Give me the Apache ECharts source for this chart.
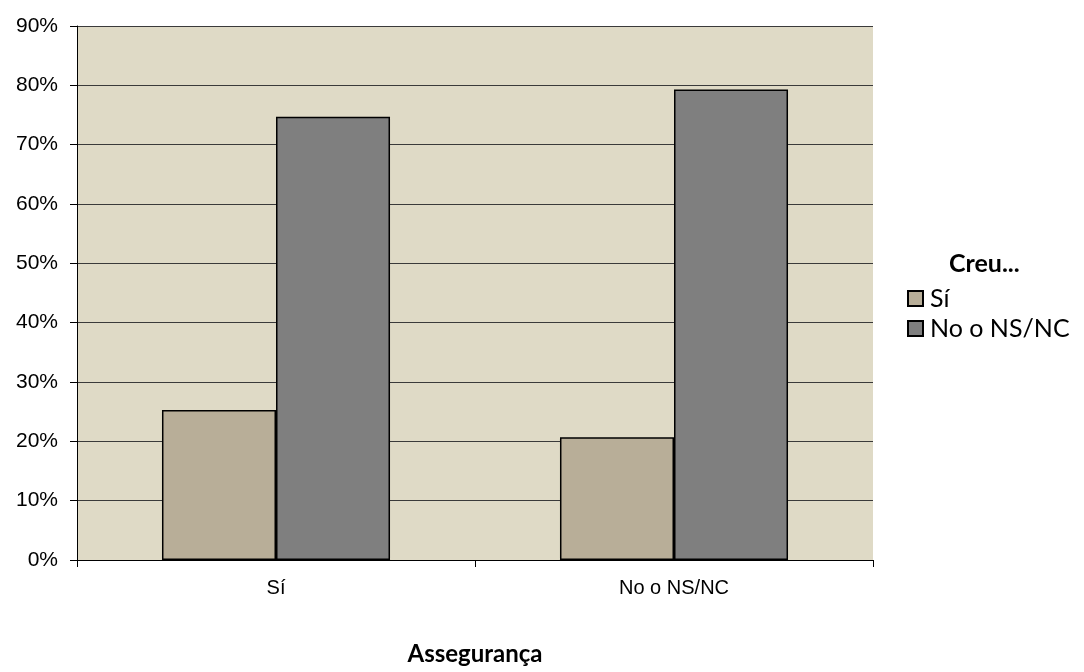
<!DOCTYPE html>
<html lang="es">
  <head>
    <meta charset="UTF-8" />
    <title>Assegurança</title>
    <script src="https://cdn.jsdelivr.net/npm/echarts@6/dist/echarts.min.js"></script>
    <style>
      html, body { margin: 0; padding: 0; background: #fff; }
      #main { width: 1084px; height: 672px; }
    </style>
  </head>
  <body>
    <div id="main"></div>
    <script>
      // categorías y valores (en %)
      var categories = ["Sí", "No o NS/NC"];
      var seriesNames = ["Sí", "No o NS/NC"];
      var valSi = [25.3, 20.7];
      var valNo = [74.7, 79.3];

      var myChart = echarts.init(document.getElementById("main"));

      var option = {
        animation: false,
        backgroundColor: "#ffffff",
        title: {
          text: "Creu...",
          left: 944,
          top: 246,
          textStyle: {
            fontFamily: "Lato",
            fontWeight: "bold",
            fontSize: 25,
            color: "#000"
          }
        },
        legend: {
          orient: "vertical",
          left: 902,
          top: 281,
          itemWidth: 15,
          itemHeight: 15,
          itemGap: 5,
          icon: "rect",
          data: seriesNames,
          textStyle: {
            fontFamily: "Lato",
            fontSize: 25,
            color: "#000",
            padding: [0, 0, 0, 2]
          }
        },
        grid: {
          left: 77,
          right: 211,
          top: 26,
          bottom: 112,
          outerBoundsMode: "none",
          containLabel: false,
          show: true,
          backgroundColor: "#dfdac6",
          borderWidth: 0
        },
        xAxis: {
          type: "category",
          data: categories,
          name: "Assegurança",
          nameLocation: "middle",
          nameGap: 82,
          nameTextStyle: {
            fontFamily: "Lato",
            fontWeight: "bold",
            fontSize: 24,
            color: "#000"
          },
          axisLine: { lineStyle: { color: "#000", width: 1 } },
          axisTick: { show: true, length: 7, lineStyle: { color: "#000" } },
          axisLabel: {
            fontFamily: "Liberation Sans",
            fontSize: 20,
            color: "#000",
            margin: 18
          }
        },
        yAxis: {
          type: "value",
          min: 0,
          max: 90,
          interval: 10,
          axisLine: { show: true, lineStyle: { color: "#000", width: 1 } },
          axisTick: { show: true, length: 7, lineStyle: { color: "#000" } },
          axisLabel: {
            formatter: "{value}%",
            fontFamily: "Liberation Sans",
            fontSize: 21,
            color: "#000",
            margin: 19
          },
          splitLine: { lineStyle: { color: "#3a3a3a", width: 1 } }
        },
        series: [
          {
            name: seriesNames[0],
            type: "bar",
            data: valSi,
            barGap: "0%",
            barCategoryGap: "42.7%",
            itemStyle: { color: "#b8ae98", borderColor: "#000", borderWidth: 1.5 }
          },
          {
            name: seriesNames[1],
            type: "bar",
            data: valNo,
            itemStyle: { color: "#7f7f7f", borderColor: "#000", borderWidth: 1.5 }
          }
        ]
      };

      myChart.setOption(option);
    </script>
  </body>
</html>
